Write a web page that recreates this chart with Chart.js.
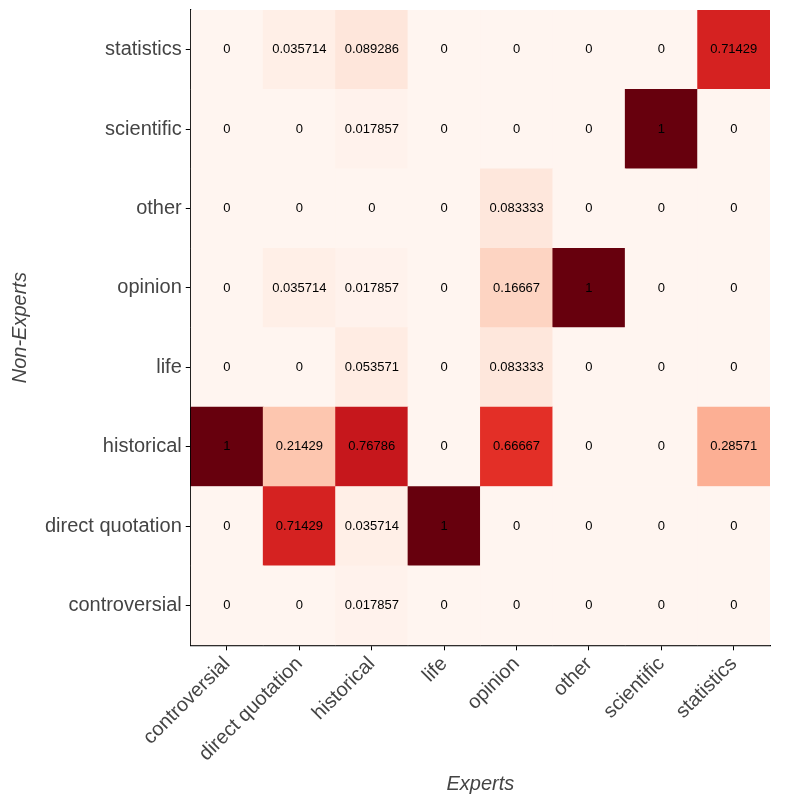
<!DOCTYPE html>
<html>
<head>
<meta charset="utf-8">
<script src="https://cdn.jsdelivr.net/npm/chart.js@4.4.1/dist/chart.umd.min.js"></script>
<style>
  html, body { margin: 0; padding: 0; background: #fff; }
  #wrap { width: 800px; height: 800px; }
</style>
</head>
<body>
<div id="wrap"><canvas id="grafico"></canvas></div>
<script>
// Categorias (eixo x = Experts, eixo y = Non-Experts, de baixo para cima)
const xCats = ["controversial", "direct quotation", "historical", "life", "opinion", "other", "scientific", "statistics"];
const yCats = ["controversial", "direct quotation", "historical", "life", "opinion", "other", "scientific", "statistics"];

// Valores por linha (Non-Experts), colunas na ordem de xCats
const rowControversial = [0, 0, 0.017857, 0, 0, 0, 0, 0];
const rowDirectQuotation = [0, 0.71429, 0.035714, 1, 0, 0, 0, 0];
const rowHistorical = [1, 0.21429, 0.76786, 0, 0.66667, 0, 0, 0.28571];
const rowLife = [0, 0, 0.053571, 0, 0.083333, 0, 0, 0];
const rowOpinion = [0, 0.035714, 0.017857, 0, 0.16667, 1, 0, 0];
const rowOther = [0, 0, 0, 0, 0.083333, 0, 0, 0];
const rowScientific = [0, 0, 0.017857, 0, 0, 0, 1, 0];
const rowStatistics = [0, 0.035714, 0.089286, 0, 0, 0, 0, 0.71429];

const rows = [rowControversial, rowDirectQuotation, rowHistorical, rowLife, rowOpinion, rowOther, rowScientific, rowStatistics];

// Escala de cores "Reds"
const reds = ["#fff5f0", "#fee0d2", "#fcbba1", "#fc9272", "#fb6a4a", "#ef3b2c", "#cb181d", "#a50f15", "#67000d"];
function hex(c) {
  return [parseInt(c.slice(1, 3), 16), parseInt(c.slice(3, 5), 16), parseInt(c.slice(5, 7), 16)];
}
function corReds(v) {
  const t = Math.max(0, Math.min(1, v)) * (reds.length - 1);
  const i = Math.min(Math.floor(t), reds.length - 2);
  const f = t - i;
  const a = hex(reds[i]), b = hex(reds[i + 1]);
  const c = a.map((x, k) => Math.round(x + (b[k] - x) * f));
  return `rgb(${c[0]},${c[1]},${c[2]})`;
}

// Texto dentro de cada célula
const rotulosCelulas = {
  id: "rotulosCelulas",
  afterDatasetsDraw(chart) {
    const ctx = chart.ctx;
    ctx.save();
    ctx.font = "13px 'Liberation Sans', Arial, sans-serif";
    ctx.fillStyle = "#000";
    ctx.textAlign = "center";
    ctx.textBaseline = "middle";
    chart.data.datasets.forEach((ds, di) => {
      const meta = chart.getDatasetMeta(di);
      meta.data.forEach((bar, xi) => {
        const cy = (bar.y + bar.base) / 2;
        ctx.fillText(String(rows[di][xi]), bar.x, cy);
      });
    });
    ctx.restore();
  }
};

const datasets = rows.map((linha, ri) => ({
  label: yCats[ri],
  data: linha.map(() => 1),
  backgroundColor: linha.map(corReds),
  borderWidth: 0,
  barPercentage: 1,
  categoryPercentage: 1
}));

const fonteTicks = { family: "'Liberation Sans', Arial, sans-serif", size: 20 };
const fonteTitulo = { family: "'Liberation Sans', Arial, sans-serif", size: 20, style: "italic" };

new Chart(document.getElementById("grafico"), {
  type: "bar",
  data: { labels: xCats, datasets },
  options: {
    responsive: true,
    maintainAspectRatio: false,
    animation: false,
    layout: { padding: { top: 10, right: 30, left: 4, bottom: 0 } },
    plugins: {
      legend: { display: false },
      tooltip: { enabled: false }
    },
    scales: {
      x: {
        stacked: true,
        offset: true,
        border: { display: true, color: "#000", width: 1.2 },
        grid: { display: true, offset: false, drawOnChartArea: false, drawTicks: true, tickLength: 5, color: "#000" },
        ticks: { color: "#444", font: fonteTicks, minRotation: 45, maxRotation: 45, padding: 2, autoSkip: false },
        title: { display: true, text: "Experts", color: "#444", font: fonteTitulo, padding: { top: 4, bottom: 4 } }
      },
      y: {
        stacked: true,
        min: 0,
        max: yCats.length,
        border: { display: true, color: "#000", width: 1.2 },
        grid: { display: true, drawOnChartArea: false, drawTicks: true, tickLength: 5, color: "#000" },
        afterBuildTicks(axis) {
          axis.ticks = yCats.map((_, i) => ({ value: i + 0.5 }));
        },
        afterFit(axis) {
          axis.paddingTop = 0;
          axis.paddingBottom = 0;
        },
        ticks: {
          color: "#444",
          font: fonteTicks,
          padding: 4,
          callback(value) {
            return yCats[Math.floor(value)];
          }
        },
        title: { display: true, text: "Non-Experts", color: "#444", font: fonteTitulo, padding: { bottom: 9 } }
      }
    }
  },
  plugins: [rotulosCelulas]
});
</script>
</body>
</html>
